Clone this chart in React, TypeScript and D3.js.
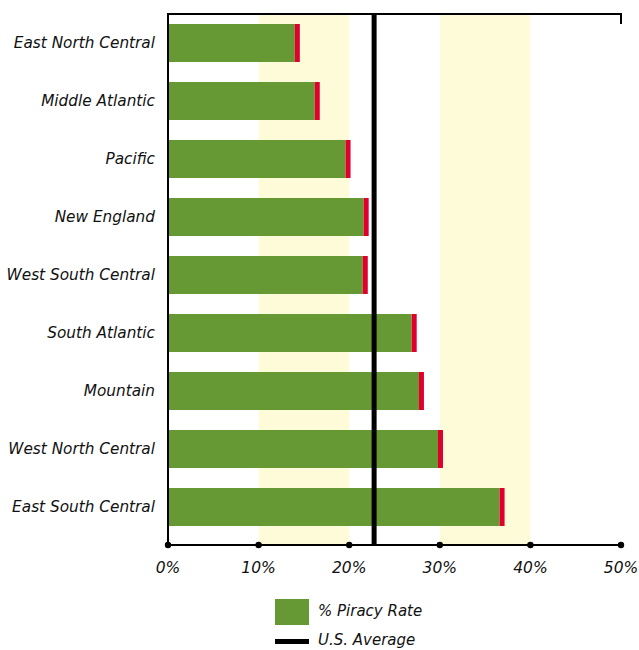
import React from "react";
import * as d3 from "d3";

const regions = [
  "East North Central",
  "Middle Atlantic",
  "Pacific",
  "New England",
  "West South Central",
  "South Atlantic",
  "Mountain",
  "West North Central",
  "East South Central",
];
const piracyRate = [14.0, 16.2, 19.6, 21.6, 21.5, 26.9, 27.7, 29.8, 36.6];
const marginValues = [0.55, 0.55, 0.55, 0.55, 0.55, 0.55, 0.55, 0.55, 0.55];
const usAverage = 22.75;
const xTicks = [0, 10, 20, 30, 40, 50];
const shadedBands = [
  [10, 20],
  [30, 40],
];

const W = 639;
const H = 650;
const left = 168;
const right = 621;
const top = 14;
const axisY = 545;
const font = "'DejaVu Sans', sans-serif";

export default function App() {
  const x = d3.scaleLinear().domain([0, 50]).range([left, right]);
  const y = d3
    .scaleBand<string>()
    .domain(regions)
    .range([top, 536])
    .paddingInner(0.345)
    .paddingOuter(0.1725);

  return (
    <svg
      width={W}
      height={H}
      style={{ position: "absolute", left: 0, top: 0, background: "#fff" }}
    >
      {shadedBands.map(([a, b], i) => (
        <rect
          key={i}
          x={x(a)}
          y={top}
          width={x(b) - x(a)}
          height={axisY - top}
          fill="#fefbd8"
        />
      ))}
      {regions.map((r, i) => (
        <g key={r}>
          <rect
            x={x(0)}
            y={y(r)}
            width={x(piracyRate[i]) - x(0)}
            height={y.bandwidth()}
            fill="#669933"
          />
          <rect
            x={x(piracyRate[i])}
            y={y(r)}
            width={x(piracyRate[i] + marginValues[i]) - x(piracyRate[i])}
            height={y.bandwidth()}
            fill="#e0002d"
          />
          <text
            x={155}
            y={(y(r) as number) + y.bandwidth() / 2}
            dy="0.35em"
            textAnchor="end"
            fontFamily={font}
            fontStyle="italic"
            fontSize={15.3}
            fill="#111"
          >
            {r}
          </text>
        </g>
      ))}
      {/* top border */}
      <path
        d={`M${left},${top}H${right}V${top + 10}`}
        fill="none"
        stroke="#000"
        strokeWidth={2}
      />
      {/* left axis */}
      <line x1={left} x2={left} y1={top - 1} y2={axisY} stroke="#000" strokeWidth={2} />
      {/* US average */}
      <line
        x1={x(usAverage)}
        x2={x(usAverage)}
        y1={top - 1}
        y2={axisY}
        stroke="#000"
        strokeWidth={5}
      />
      {/* bottom axis */}
      <line x1={left} x2={right} y1={axisY} y2={axisY} stroke="#000" strokeWidth={2} />
      {xTicks.map((t) => (
        <g key={t}>
          <circle cx={x(t)} cy={axisY} r={3.2} fill="#000" />
          <text
            x={x(t)}
            y={573}
            textAnchor="middle"
            fontFamily={font}
            fontStyle="italic"
            fontSize={15.5}
            fill="#111"
          >
            {t}%
          </text>
        </g>
      ))}
      {/* legend */}
      <rect x={275} y={599} width={34} height={26} fill="#669933" />
      <text x={318} y={616} fontFamily={font} fontStyle="italic" fontSize={15} fill="#111">
        % Piracy Rate
      </text>
      <rect x={275} y={639} width={34} height={5} fill="#000" />
      <text x={318} y={645} fontFamily={font} fontStyle="italic" fontSize={15} fill="#111">
        U.S. Average
      </text>
    </svg>
  );
}
